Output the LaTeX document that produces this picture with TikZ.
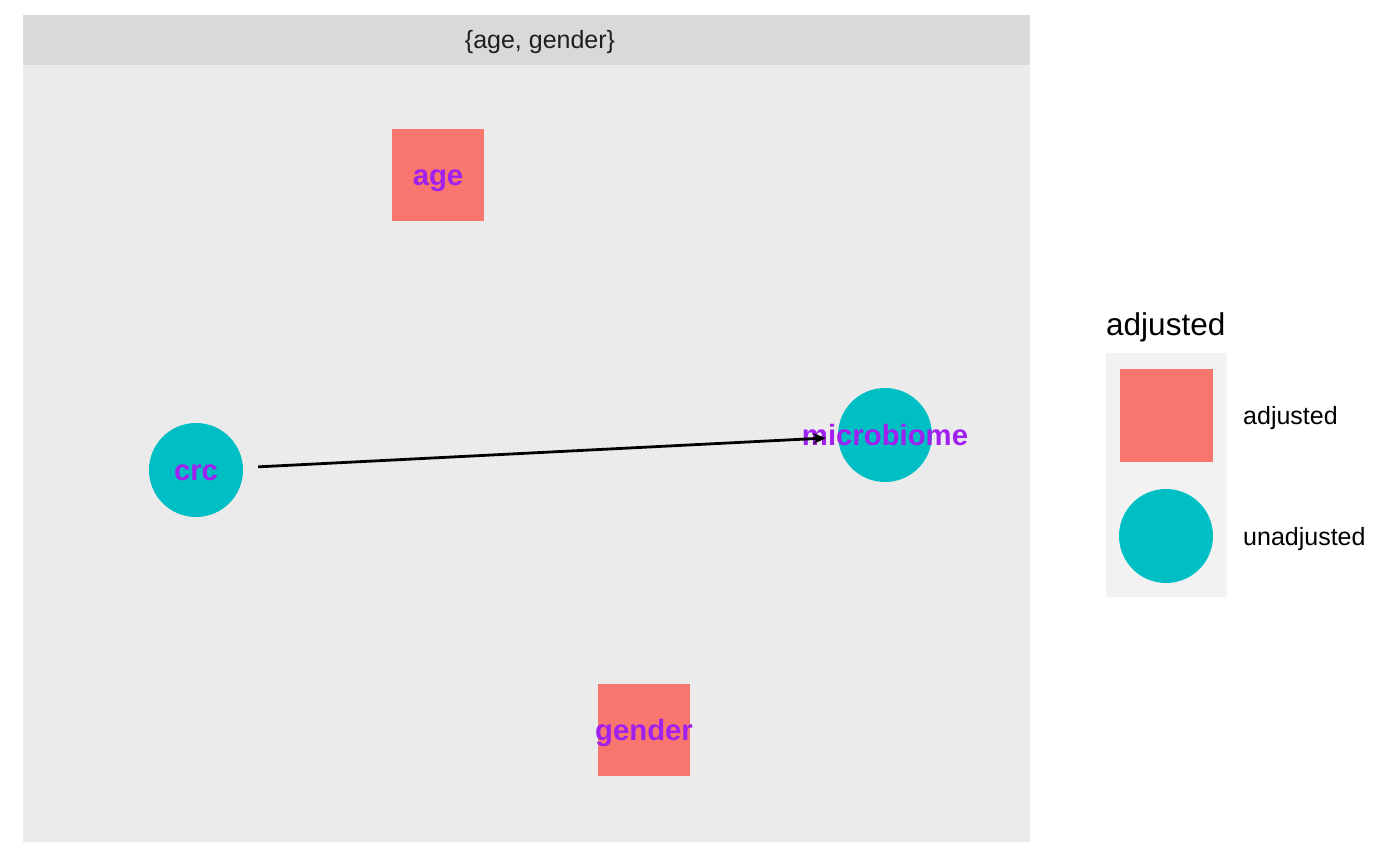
\documentclass[tikz,border=0pt]{standalone}
\usepackage{fontspec}
\setmainfont{Liberation Sans}
\usetikzlibrary{arrows.meta}
\definecolor{adjc}{HTML}{F8766D}
\definecolor{unadjc}{HTML}{00BFC4}
\definecolor{panelbg}{HTML}{EBEBEB}
\definecolor{stripbg}{HTML}{D9D9D9}
\definecolor{keybg}{HTML}{F2F2F2}
\definecolor{lblc}{HTML}{A020F0}
\tikzset{
  sqnode/.style={rectangle, fill=adjc, minimum size=92bp, inner sep=0pt},
  circnode/.style={circle, fill=unadjc, minimum size=94bp, inner sep=0pt},
  lbl/.style={text=lblc, font=\fontsize{29.3bp}{31bp}\selectfont\bfseries, inner sep=0pt, anchor=base, yshift=-10.5bp},
  edgeline/.style={line width=2.8bp, -{Stealth[length=13bp,width=11bp]}, shorten <=15bp, shorten >=12bp},
  legtext/.style={font=\fontsize{25bp}{28bp}\selectfont, anchor=base west, inner sep=0pt, yshift=-9bp},
}
\begin{document}
\begin{tikzpicture}[x=1bp,y=-1bp]
\useasboundingbox (0,0) rectangle (1400,865);
\fill[white] (0,0) rectangle (1400,865);
% panel
\fill[panelbg] (23,65) rectangle (1030,842);
\fill[stripbg] (23,15) rectangle (1030,65);
\node[font=\fontsize{25bp}{28bp}\selectfont, text=black!88, inner sep=0pt] (strip) at (540,42) {\{age, gender\}};
% nodes
\node[sqnode] (age) at (438,175) {};
\node[sqnode] (gender) at (644,730) {};
\node[circnode] (crc) at (196,470) {};
\node[circnode] (mb) at (885,435) {};
\node[lbl] (agel) at (age) {age};
\node[lbl] (genderl) at (gender) {gender};
\node[lbl] (crcl) at (crc) {crc};
\node[lbl] (mbl) at (mb) {microbiome};
\draw[edgeline] (crc) -- (mb);
% legend
\node[font=\fontsize{31.5bp}{34bp}\selectfont, anchor=base west, inner sep=0pt] (legtitle) at (1106,335) {adjusted};
\fill[keybg] (1106,353) rectangle (1227,597);
\node[sqnode, minimum size=93bp] (keysq) at (1166,415) {};
\node[circnode] (keyci) at (1166,536) {};
\node[legtext] (leg1) at (1243,415) {adjusted};
\node[legtext] (leg2) at (1243,536) {unadjusted};
\end{tikzpicture}
\end{document}
